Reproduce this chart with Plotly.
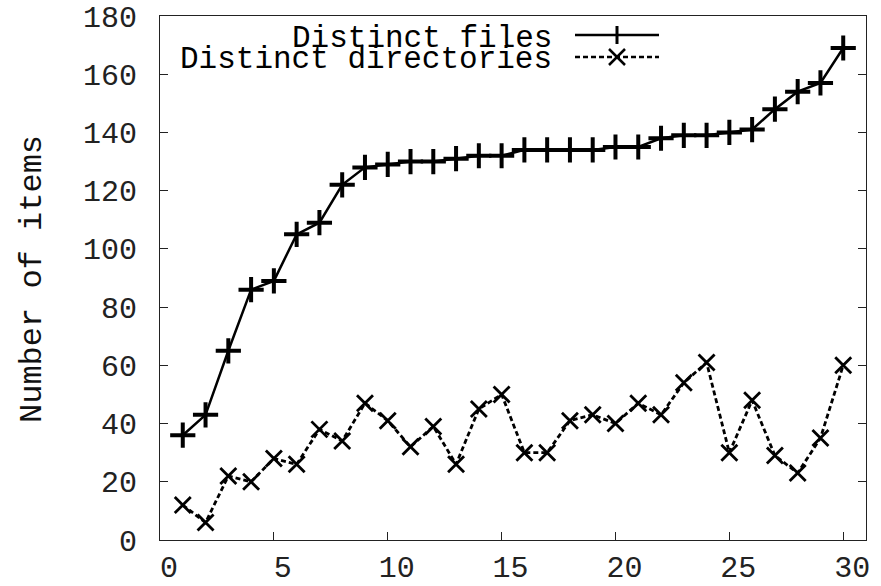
import plotly.graph_objects as go

# ---- data ----
x_vals = list(range(1, 31))
distinct_files = [36, 43, 65, 86, 89, 105, 109, 122, 128, 129,
                  130, 130, 131, 132, 132, 134, 134, 134, 134, 135,
                  135, 138, 139, 139, 140, 141, 148, 154, 157, 169]
distinct_dirs = [12, 6, 22, 20, 28, 26, 38, 34, 47, 41,
                 32, 39, 26, 45, 50, 30, 30, 41, 43, 40,
                 47, 43, 54, 61, 30, 48, 29, 23, 35, 60]
series_names = ["Distinct files", "Distinct directories"]
x_ticks = [0, 5, 10, 15, 20, 25, 30]
y_ticks = [0, 20, 40, 60, 80, 100, 120, 140, 160, 180]
y_title = "Number of items"

W, H = 881, 586
# plot area in page pixels: x 160..866, y 16..540
L, R, T, B = 160, 881 - 866, 16, 586 - 540
PW, PH = W - L - R, H - T - B

FONT = "Liberation Mono, Courier New, monospace"


def px(xp):
    """page pixel x -> paper fraction"""
    return (xp - L) / PW


def py(yp):
    """page pixel y -> paper fraction"""
    return (H - B - yp) / PH


fig = go.Figure()
fig.add_trace(go.Scatter(
    x=x_vals, y=distinct_files, mode="lines+markers", name=series_names[0],
    line=dict(color="black", width=2.5),
    marker=dict(symbol="cross-thin", size=18, line=dict(color="black", width=4)),
    showlegend=False,
))
fig.add_trace(go.Scatter(
    x=x_vals, y=distinct_dirs, mode="lines+markers", name=series_names[1],
    line=dict(color="black", width=2.8, dash="5px,3px"),
    marker=dict(symbol="x-thin", size=16, line=dict(color="black", width=2.8)),
    showlegend=False,
))

# ---- custom gnuplot-style legend (text right-aligned, sample at right) ----
text_right = 554
line_x0, line_x1, mark_x = 575, 659, 617
rows = [(38, 35), (59, 57)]
shapes = []
annotations = []
for i, name in enumerate(series_names):
    ty, ly = rows[i]
    annotations.append(dict(
        x=px(text_right), y=py(ty), xref="paper", yref="paper",
        xanchor="right", yanchor="middle", text=name, showarrow=False,
        font=dict(family=FONT, size=31, color="black"),
    ))
    shapes.append(dict(
        type="line", xref="paper", yref="paper",
        x0=px(line_x0), x1=px(line_x1), y0=py(ly), y1=py(ly),
        line=dict(color="black", width=2.5, dash=None if i == 0 else "5px,3px"),
    ))
    if i == 0:
        shapes.append(dict(type="line", xref="paper", yref="paper",
                           x0=px(mark_x), x1=px(mark_x), y0=py(ly - 9), y1=py(ly + 9),
                           line=dict(color="black", width=3)))
    else:
        for d in (1, -1):
            shapes.append(dict(type="line", xref="paper", yref="paper",
                               x0=px(mark_x - 8), x1=px(mark_x + 8),
                               y0=py(ly - 8 * d), y1=py(ly + 8 * d),
                               line=dict(color="black", width=2.5)))

annotations.append(dict(
    x=px(32), y=py(279), xref="paper", yref="paper",
    xanchor="center", yanchor="middle", text=y_title, textangle=-90,
    showarrow=False, font=dict(family=FONT, size=32, color="#111"),
))

fig.update_layout(
    width=W, height=H,
    margin=dict(l=L, r=R, t=T, b=B, autoexpand=False),
    paper_bgcolor="white", plot_bgcolor="white",
    font=dict(family=FONT, size=30, color="#222"),
    shapes=shapes, annotations=annotations,
    showlegend=False,
)
fig.update_xaxes(
    range=[0, 31], tickmode="array", tickvals=x_ticks,
    ticktext=["\u00a0" + str(v) for v in x_ticks],
    ticks="inside", ticklen=8, tickwidth=1, tickcolor="#222",
    showline=True, linecolor="#222", linewidth=1.2, mirror=True,
    showgrid=False, zeroline=False, ticklabelstandoff=0,
    ticklabeloverflow="allow",
    tickfont=dict(family=FONT, size=30, color="#222"),
)
fig.update_yaxes(
    range=[0, 180], tickmode="array", tickvals=y_ticks,
    ticks="inside", ticklen=8, tickwidth=1, tickcolor="#222",
    showline=True, linecolor="#222", linewidth=1.2, mirror="ticks",
    showgrid=False, zeroline=False, ticklabelstandoff=16,
    ticklabeloverflow="allow",
    tickfont=dict(family=FONT, size=30, color="#222"),
)

fig.write_html("out.html",
               config={"displayModeBar": False},
               post_script="document.body.style.margin='0';document.body.style.overflow='hidden';")
